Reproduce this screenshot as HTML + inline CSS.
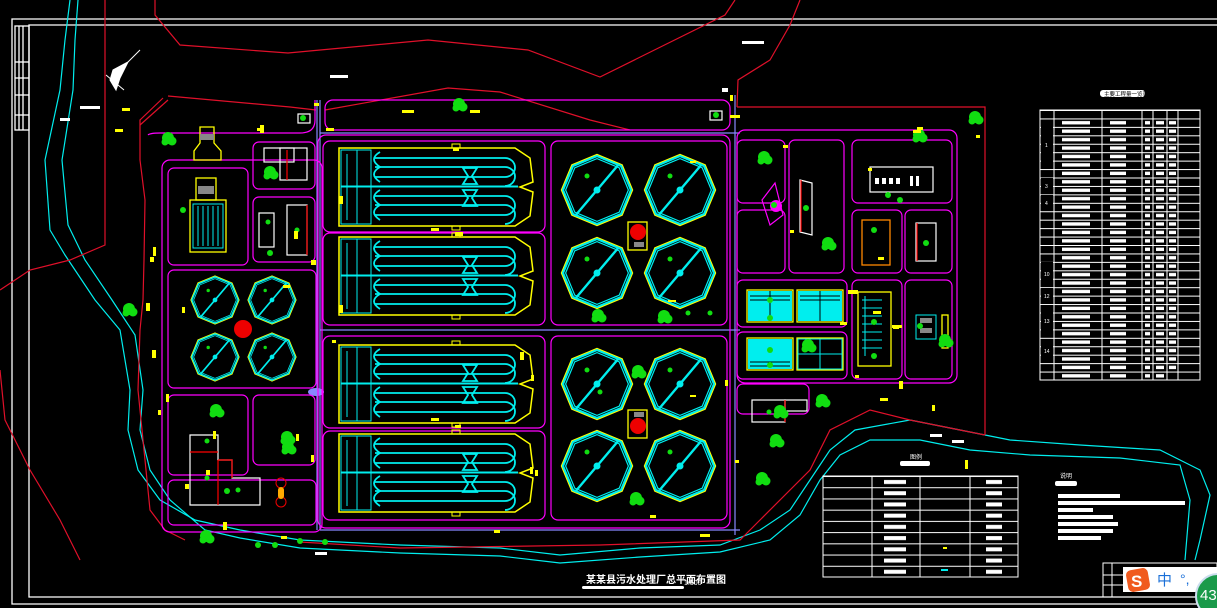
<!DOCTYPE html>
<html><head><meta charset="utf-8"><style>
html,body{margin:0;padding:0;background:#000;overflow:hidden}
svg{display:block}
text{font-family:"Liberation Sans","Noto Sans CJK SC",sans-serif}
</style></head><body>
<svg width="1217" height="608" viewBox="0 0 1217 608" xmlns="http://www.w3.org/2000/svg" xmlns:xlink="http://www.w3.org/1999/xlink">
<defs>
<g id="tank" fill="none">
<path d="M339,0 L515,0 L530,10 L533,34 L520,39 L533,44 L530,68 L515,78 L339,78Z" stroke="#ff0" stroke-width="1.5"/>
<rect x="341" y="2" width="30" height="74" stroke="#0ee"/>
<line x1="347" y1="6" x2="347" y2="72" stroke="#0ee"/>
<line x1="357" y1="2" x2="357" y2="76" stroke="#0ee"/>
<g stroke="#0ee" stroke-width="1.8">
<path d="M375,10H505M375,19H505M375,29H505M375,48H505M375,57H505M375,67H505"/>
<path d="M341,38.5H518" stroke-width="2"/>
<path d="M505,10a10,9.5 0 0 1 0,19M505,19a10,9.5 0 0 1 0,19M505,48a10,9.5 0 0 1 0,19M505,57a10,9.5 0 0 1 0,19"/>
<path d="M380,4q-12,7 0,15q-12,7 0,15M380,42q-12,7 0,15q-12,7 0,15"/>
<path d="M463,20h14l-5,8l5,8h-14l5,-8zM463,42h14l-5,8l5,8h-14l5,-8z"/>
</g>
<rect x="452" y="-4" width="8" height="4" stroke="#ff0"/>
<rect x="452" y="78" width="8" height="4" stroke="#ff0"/>
</g>
<g id="oct">
<g transform="rotate(22.5)">
<polygon points="32.8,13.6 13.6,32.8 -13.6,32.8 -32.8,13.6 -32.8,-13.6 -13.6,-32.8 13.6,-32.8 32.8,-13.6" fill="none" stroke="#ff0" stroke-width="1.4"/>
<polygon points="31.4,13 13,31.4 -13,31.4 -31.4,13 -31.4,-13 -13,-31.4 13,-31.4 31.4,-13" fill="none" stroke="#0ee" stroke-width="2.2"/>
<polygon points="29,12 12,29 -12,29 -29,12 -29,-12 -12,-29 12,-29 29,-12" fill="none" stroke="#0ee" stroke-width="1.2"/>
</g>
<line x1="-22" y1="26" x2="22" y2="-26" stroke="#0ee" stroke-width="2.4"/>
<circle r="3.5" fill="#0ee"/>
<circle cx="-10" cy="-14" r="2.5" fill="#1d1"/>
</g>
<pattern id="rowl" patternUnits="userSpaceOnUse" x="0" y="110" width="200" height="8.4375"><rect width="200" height="1" fill="#fff"/></pattern>
<pattern id="rowb" patternUnits="userSpaceOnUse" x="0" y="110" width="200" height="8.4375"><rect y="2.6" width="200" height="3.4" fill="#fff"/></pattern>
<pattern id="legl" patternUnits="userSpaceOnUse" x="0" y="476" width="200" height="11.222"><rect width="200" height="1" fill="#fff"/></pattern>
<pattern id="legb" patternUnits="userSpaceOnUse" x="0" y="476" width="200" height="11.222"><rect y="4" width="200" height="4" fill="#fff"/></pattern>
<g id="tree"><circle r="6" fill="#1d1"/><circle cx="4" cy="3" r="4.5" fill="#1d1"/><circle cx="-3" cy="4" r="3.5" fill="#1d1"/></g>
</defs>
<rect width="1217" height="608" fill="#000"/>
<g fill="none" stroke="#fff" stroke-width="1.3">
<polyline points="1217,19 12,19 12,604 1217,604"/>
<polyline points="1217,25 29,25 29,597 1217,597"/>
<rect x="15" y="26" width="14" height="104"/>
<line x1="19" y1="26" x2="19" y2="130"/><line x1="23" y1="26" x2="23" y2="130"/>
<line x1="15" y1="62" x2="29" y2="62"/><line x1="15" y1="78" x2="29" y2="78"/><line x1="15" y1="95" x2="29" y2="95"/><line x1="15" y1="115" x2="29" y2="115"/>
</g>
<g fill="none" stroke="#0ee" stroke-width="1.2">
<polyline points="70,0 65,40 60,90 45,160 50,230 65,255 95,300 120,330 130,390 128,430 138,470 160,500 195,520 240,530 300,540 400,545 500,548 560,555 640,548 720,545 760,530 790,510 810,480 830,450 855,430 910,420 960,430 1010,440 1080,445 1160,450 1200,470 1210,495 1200,540 1195,560"/>
<polyline points="78,0 75,40 73,90 62,160 68,225 85,260 112,300 135,335 143,390 140,430 150,470 170,500 205,530 240,538 300,548 400,553 500,556 560,563 640,557 720,552 770,540 800,515 820,480 840,455 870,440 920,440 970,450 1030,455 1120,458 1180,465 1190,500 1185,560"/>
</g>
<g fill="none" stroke="#e0102a" stroke-width="1.2">
<polyline points="0,290 30,270 70,260 105,245 105,0"/>
<polyline points="0,370 5,420 30,470 60,520 80,560"/>
<polyline points="155,0 155,15 180,45 288,53 428,40 528,50 600,77 725,15 735,0"/>
<polyline points="800,0 790,25 770,60 738,80 737,107"/>
<polyline points="168,96 290,107 316,110"/><polyline points="140,125 168,100"/>
<polyline points="325,110 448,88 500,92 590,120 630,130"/>
<polyline points="163,98 140,120 140,160 145,200 144,260 143,300 140,330 138,390 146,470 150,510 165,530 185,540"/>
<polyline points="737,107 985,107 985,435"/>
<polyline points="985,435 910,420 870,410 830,430 810,470 760,520 740,540 600,545 400,548 300,542"/>
</g>
<g fill="none" stroke="#88f" stroke-width="1.2">
<line x1="317" y1="100" x2="317" y2="530"/><line x1="320" y1="100" x2="320" y2="530"/>
<polyline points="320,133 740,133"/><polyline points="320,330 740,330"/>
<polyline points="320,530 740,530"/>
<line x1="735" y1="95" x2="735" y2="535"/>
</g>
<ellipse cx="316" cy="392" rx="8" ry="4" fill="#88f"/>
<g fill="none" stroke="#f0f" stroke-width="1.2">
<rect x="162" y="160" width="160" height="372" rx="8"/>
<rect x="168" y="168" width="80" height="97" rx="6"/>
<rect x="253" y="142" width="62" height="47" rx="6"/>
<rect x="253" y="197" width="62" height="65" rx="6"/>
<rect x="168" y="270" width="148" height="118" rx="6"/>
<rect x="168" y="395" width="80" height="80" rx="6"/>
<rect x="253" y="395" width="62" height="70" rx="6"/>
<rect x="168" y="480" width="148" height="45" rx="6"/>
<path d="M148,135 Q150,133 160,133 L300,133 Q315,133 315,120 L315,100"/>
<rect x="325" y="100" width="405" height="30" rx="8"/>
<rect x="323" y="141" width="222" height="91" rx="7"/>
<rect x="323" y="233" width="222" height="92" rx="7"/>
<rect x="323" y="336" width="222" height="92" rx="7"/>
<rect x="323" y="431" width="222" height="89" rx="7"/>
<rect x="551" y="141" width="176" height="184" rx="7"/>
<rect x="551" y="336" width="176" height="184" rx="7"/>
<rect x="318" y="135" width="412" height="393" rx="8"/>
<rect x="737" y="130" width="220" height="253" rx="8"/>
<rect x="737" y="140" width="48" height="63" rx="6"/>
<rect x="737" y="210" width="48" height="63" rx="6"/>
<rect x="789" y="140" width="55" height="133" rx="6"/>
<rect x="852" y="140" width="100" height="63" rx="6"/>
<rect x="852" y="210" width="50" height="63" rx="6"/>
<rect x="905" y="210" width="47" height="63" rx="6"/>
<rect x="737" y="280" width="110" height="47" rx="6"/>
<rect x="737" y="332" width="110" height="47" rx="6"/>
<rect x="852" y="280" width="50" height="99" rx="6"/>
<rect x="905" y="280" width="47" height="99" rx="6"/>
<polygon points="775,183 762,200 770,225 783,215"/>
<rect x="737" y="384" width="72" height="30" rx="6"/>
</g>
<use xlink:href="#tank" href="#tank" transform="translate(0,148)"/>
<use xlink:href="#tank" href="#tank" transform="translate(0,237)"/>
<use xlink:href="#tank" href="#tank" transform="translate(0,345)"/>
<use xlink:href="#tank" href="#tank" transform="translate(0,434)"/>
<use xlink:href="#oct" href="#oct" transform="translate(597,190)"/>
<use xlink:href="#oct" href="#oct" transform="translate(680,190)"/>
<use xlink:href="#oct" href="#oct" transform="translate(597,273)"/>
<use xlink:href="#oct" href="#oct" transform="translate(680,273)"/>
<use xlink:href="#oct" href="#oct" transform="translate(597,384)"/>
<use xlink:href="#oct" href="#oct" transform="translate(680,384)"/>
<use xlink:href="#oct" href="#oct" transform="translate(597,466)"/>
<use xlink:href="#oct" href="#oct" transform="translate(680,466)"/>
<use xlink:href="#oct" href="#oct" transform="translate(215,300) scale(0.68)"/>
<use xlink:href="#oct" href="#oct" transform="translate(272,300) scale(0.68)"/>
<use xlink:href="#oct" href="#oct" transform="translate(215,357) scale(0.68)"/>
<use xlink:href="#oct" href="#oct" transform="translate(272,357) scale(0.68)"/>
<g fill="none" stroke="#ff0" stroke-width="1.3">
<rect x="190" y="200" width="36" height="52"/>
<rect x="196" y="178" width="20" height="22"/>
<polygon points="200,127 214,127 214,143 221,151 221,160 194,160 194,151 200,143"/>
<rect x="628" y="222" width="19" height="28"/>
<rect x="628" y="410" width="19" height="28"/>
<rect x="747" y="290" width="46" height="32"/><rect x="797" y="290" width="46" height="32"/>
<rect x="747" y="338" width="46" height="32"/><rect x="797" y="338" width="46" height="32"/>
<rect x="858" y="292" width="33" height="74"/>
<rect x="862" y="220" width="28" height="45" stroke="#f80"/>
<rect x="942" y="315" width="6" height="33"/>
</g>
<g fill="#0ee">
<rect x="748" y="291" width="44" height="30"/><rect x="798" y="291" width="44" height="30"/>
<rect x="748" y="339" width="44" height="30"/>
</g>
<g fill="none" stroke="#0ee" stroke-width="1">
<rect x="193" y="204" width="30" height="44"/>
<path d="M198,206v40M203,206v40M208,206v40M213,206v40M218,206v40"/>
<rect x="916" y="315" width="20" height="24"/>
<rect x="798" y="339" width="44" height="30"/><line x1="820" y1="339" x2="820" y2="369"/><line x1="798" y1="354" x2="842" y2="354"/>
<path d="M862,300h20M862,308h20M862,316h20M862,324h20M862,332h20M862,340h20M862,348h20M865,296v60"/>
</g>
<g stroke="#000" stroke-width="1"><path d="M750,296h40M750,300h40M800,296h40M800,300h40M750,362h40M750,366h40M770,291v30M820,291v30"/></g>
<g fill="none" stroke="#fff" stroke-width="1.2">
<polygon points="190,435 218,435 218,460 232,460 232,478 260,478 260,505 190,505"/>
<rect x="264" y="148" width="30" height="14"/><rect x="280" y="148" width="27" height="32"/>
<rect x="259" y="213" width="15" height="34"/><rect x="287" y="205" width="20" height="50"/>
<rect x="870" y="167" width="63" height="25"/>
<polygon points="800,180 812,183 812,235 800,232"/>
<rect x="916" y="223" width="20" height="38"/>
<rect x="752" y="400" width="33" height="22"/><rect x="785" y="400" width="22" height="11"/>
<rect x="298" y="114" width="12" height="9"/><rect x="710" y="111" width="12" height="9"/>
</g>
<g fill="#fff"><rect x="875" y="178" width="4" height="6"/><rect x="882" y="178" width="4" height="6"/><rect x="889" y="178" width="4" height="6"/><rect x="896" y="178" width="4" height="6"/><rect x="910" y="176" width="3" height="10"/><rect x="916" y="176" width="3" height="10"/></g>
<g stroke="#f00" stroke-width="1.2" fill="none">
<line x1="218" y1="460" x2="218" y2="505"/><line x1="190" y1="452" x2="218" y2="452"/>
<polyline points="218,460 232,460 232,478"/><line x1="287" y1="150" x2="287" y2="180"/>
<line x1="307" y1="205" x2="307" y2="255"/><line x1="801" y1="180" x2="801" y2="232"/>
<line x1="917" y1="223" x2="917" y2="261"/><line x1="785" y1="400" x2="785" y2="422"/>
</g>
<g fill="#e00">
<circle cx="243" cy="329" r="9"/><circle cx="638" cy="232" r="8"/><circle cx="638" cy="426" r="8"/>
</g>
<g fill="none" stroke="#e00"><circle cx="281" cy="483" r="5"/><circle cx="281" cy="502" r="5"/></g>
<rect x="278" y="487" width="6" height="12" rx="3" fill="#fa0"/>
<circle cx="776" cy="206" r="6" fill="#f0f"/>
<g fill="#888"><rect x="200" y="134" width="14" height="6"/><rect x="198" y="186" width="16" height="8"/><rect x="634" y="242" width="10" height="5"/><rect x="634" y="412" width="10" height="5"/><rect x="920" y="318" width="12" height="5"/><rect x="920" y="328" width="12" height="5"/></g>
<g>
<use href="#tree" xlink:href="#tree" x="168" y="138"/><use href="#tree" xlink:href="#tree" x="216" y="410"/>
<use href="#tree" xlink:href="#tree" x="287" y="437"/><use href="#tree" xlink:href="#tree" x="288" y="447"/>
<use href="#tree" xlink:href="#tree" x="459" y="104"/><use href="#tree" xlink:href="#tree" x="764" y="157"/>
<use href="#tree" xlink:href="#tree" x="828" y="243"/><use href="#tree" xlink:href="#tree" x="919" y="135"/>
<use href="#tree" xlink:href="#tree" x="129" y="309"/><use href="#tree" xlink:href="#tree" x="776" y="440"/>
<use href="#tree" xlink:href="#tree" x="822" y="400"/><use href="#tree" xlink:href="#tree" x="808" y="345"/>
<use href="#tree" xlink:href="#tree" x="780" y="411"/><use href="#tree" xlink:href="#tree" x="945" y="340"/>
<use href="#tree" xlink:href="#tree" x="638" y="371"/><use href="#tree" xlink:href="#tree" x="762" y="478"/>
<use href="#tree" xlink:href="#tree" x="975" y="117"/><use href="#tree" xlink:href="#tree" x="206" y="536"/>
<use href="#tree" xlink:href="#tree" x="270" y="172"/><use href="#tree" xlink:href="#tree" x="598" y="315"/>
<use href="#tree" xlink:href="#tree" x="664" y="316"/><use href="#tree" xlink:href="#tree" x="636" y="498"/>
</g>
<g fill="#1d1">
<circle cx="258" cy="545" r="3"/><circle cx="275" cy="545" r="3"/><circle cx="300" cy="541" r="3"/><circle cx="325" cy="542" r="3"/>
<circle cx="183" cy="210" r="3"/><circle cx="270" cy="253" r="3"/><circle cx="227" cy="491" r="3"/><circle cx="303" cy="118" r="3"/><circle cx="716" cy="115" r="3"/>
<circle cx="207" cy="441" r="2.5"/><circle cx="207" cy="478" r="2.5"/><circle cx="238" cy="490" r="2.5"/><circle cx="268" cy="222" r="2.5"/><circle cx="297" cy="230" r="2.5"/>
<circle cx="688" cy="313" r="2.5"/><circle cx="710" cy="313" r="2.5"/><circle cx="888" cy="195" r="3"/><circle cx="900" cy="200" r="3"/><circle cx="774" cy="205" r="3"/><circle cx="806" cy="208" r="3"/><circle cx="874" cy="230" r="3"/><circle cx="926" cy="243" r="3"/><circle cx="770" cy="300" r="3"/><circle cx="770" cy="318" r="3"/><circle cx="770" cy="350" r="3"/><circle cx="770" cy="365" r="3"/><circle cx="874" cy="322" r="3"/><circle cx="874" cy="356" r="3"/><circle cx="769" cy="412" r="2.5"/><circle cx="920" cy="326" r="3"/><circle cx="942" cy="344" r="3"/>
<circle cx="600" cy="392" r="2.5"/>
</g>
<g fill="#ff0">
<rect x="122" y="108" width="8" height="3"/><rect x="115" y="129" width="8" height="3"/><rect x="257" y="128" width="7" height="3"/><rect x="260" y="125" width="4" height="8"/>
<rect x="153" y="247" width="3" height="9"/><rect x="146" y="303" width="4" height="8"/><rect x="152" y="350" width="4" height="8"/><rect x="182" y="307" width="3" height="6"/>
<rect x="166" y="394" width="3" height="8"/><rect x="150" y="257" width="4" height="5"/><rect x="294" y="231" width="4" height="8"/><rect x="283" y="285" width="7" height="3"/>
<rect x="311" y="260" width="5" height="5"/><rect x="332" y="340" width="4" height="3"/><rect x="326" y="128" width="8" height="3"/><rect x="453" y="148" width="6" height="3"/>
<rect x="402" y="110" width="12" height="3"/><rect x="470" y="110" width="10" height="3"/><rect x="431" y="228" width="8" height="3"/><rect x="455" y="232" width="8" height="4"/>
<rect x="431" y="418" width="8" height="3"/><rect x="455" y="425" width="6" height="3"/><rect x="494" y="530" width="6" height="3"/><rect x="700" y="534" width="10" height="3"/>
<rect x="668" y="300" width="8" height="2"/><rect x="690" y="161" width="6" height="2"/><rect x="690" y="395" width="6" height="2"/><rect x="917" y="127" width="6" height="3"/>
<rect x="913" y="130" width="8" height="3"/><rect x="873" y="311" width="8" height="3"/><rect x="893" y="326" width="6" height="3"/><rect x="899" y="381" width="4" height="8"/>
<rect x="880" y="398" width="8" height="3"/><rect x="932" y="405" width="3" height="6"/><rect x="976" y="135" width="4" height="3"/><rect x="730" y="115" width="10" height="3"/>
<rect x="730" y="95" width="3" height="6"/><rect x="314" y="103" width="5" height="3"/><rect x="223" y="522" width="4" height="8"/><rect x="206" y="470" width="4" height="5"/>
<rect x="185" y="484" width="4" height="5"/><rect x="213" y="431" width="3" height="8"/><rect x="296" y="434" width="3" height="7"/><rect x="311" y="455" width="3" height="7"/>
<rect x="281" y="536" width="6" height="3"/><rect x="158" y="410" width="3" height="5"/><rect x="531" y="375" width="3" height="6"/><rect x="535" y="470" width="3" height="6"/>
<rect x="735" y="460" width="4" height="3"/><rect x="650" y="515" width="6" height="3"/><rect x="790" y="230" width="4" height="3"/><rect x="878" y="257" width="6" height="3"/>
<rect x="868" y="168" width="4" height="3"/><rect x="339" y="196" width="4" height="8"/><rect x="339" y="305" width="4" height="8"/><rect x="520" y="352" width="4" height="8"/>
<rect x="530" y="467" width="3" height="7"/><rect x="725" y="380" width="3" height="6"/><rect x="848" y="290" width="10" height="4"/><rect x="840" y="322" width="7" height="3"/>
<rect x="892" y="325" width="10" height="3"/><rect x="855" y="375" width="4" height="3"/><rect x="783" y="145" width="5" height="3"/><rect x="965" y="460" width="3" height="9"/>
</g>
<g stroke="#fff" fill="#fff" stroke-width="1">
<polygon points="113,70 128,62 120,78 116,90 110,80"/>
<line x1="128" y1="62" x2="140" y2="50"/><line x1="106" y1="75" x2="124" y2="90"/>
</g>
<g fill="#fff">
<rect x="80" y="106" width="20" height="3"/><rect x="60" y="118" width="10" height="3"/>
<rect x="330" y="75" width="18" height="3"/><rect x="742" y="41" width="22" height="3"/>
<rect x="722" y="88" width="6" height="4"/><rect x="930" y="434" width="12" height="3"/>
<rect x="952" y="440" width="12" height="3"/><rect x="315" y="552" width="12" height="3"/>
</g>
<rect x="1040" y="110" width="160" height="270" fill="url(#rowl)"/>
<g fill="url(#rowb)">
<rect x="1062" y="118.4" width="28" height="261"/><rect x="1110" y="118.4" width="16" height="261"/>
<rect x="1145" y="118.4" width="5" height="261"/><rect x="1156" y="118.4" width="8" height="261"/><rect x="1169" y="118.4" width="7" height="253"/>
</g>
<g fill="none" stroke="#fff" stroke-width="1">
<rect x="1040" y="110" width="160" height="270"/>
<path d="M1054,110V380M1102,110V380M1142,110V380M1153,110V380M1167,110V380M1178,110V380"/>
</g>
<g fill="#000"><rect x="1041" y="120" width="12" height="49"/><rect x="1041" y="178" width="12" height="15"/><rect x="1041" y="195" width="12" height="15"/><rect x="1041" y="262" width="12" height="24"/><rect x="1041" y="288" width="12" height="15"/><rect x="1041" y="305" width="12" height="32"/><rect x="1041" y="339" width="12" height="24"/></g>
<g fill="#fff" font-size="5"><text x="1045" y="147">1</text><text x="1045" y="188">3</text><text x="1045" y="205">4</text><text x="1044" y="276">10</text><text x="1044" y="298">12</text><text x="1044" y="323">13</text><text x="1044" y="353">14</text></g>
<rect x="1100" y="90" width="45" height="7" rx="3" fill="#fff"/>
<text x="1104" y="96" font-size="5.5" fill="#000">主要工程量一览表</text>
<rect x="823" y="476" width="195" height="101" fill="url(#legl)"/>
<g fill="url(#legb)"><rect x="884" y="476" width="22" height="101"/><rect x="986" y="476" width="16" height="101"/></g>
<g fill="none" stroke="#fff" stroke-width="1"><rect x="823" y="476" width="195" height="101"/><path d="M872,476V577M920,476V577M970,476V577"/></g>
<rect x="943" y="547" width="4" height="2" fill="#ff0"/>
<rect x="941" y="569" width="7" height="2" fill="#0ee"/>
<rect x="900" y="461" width="30" height="5" rx="2" fill="#fff"/>
<text x="910" y="459" font-size="6" fill="#fff">图例</text>
<g fill="#fff">
<rect x="1055" y="481" width="22" height="5" rx="2"/>
<rect x="1058" y="494" width="62" height="4"/><rect x="1058" y="501" width="127" height="4"/>
<rect x="1058" y="508" width="35" height="4"/><rect x="1058" y="515" width="55" height="4"/>
<rect x="1058" y="522" width="60" height="4"/><rect x="1058" y="529" width="55" height="4"/>
<rect x="1058" y="536" width="43" height="4"/>
</g>
<text x="1060" y="478" font-size="6" fill="#fff">说明</text>
<text x="586" y="583" font-size="10" font-weight="bold" fill="#fff">某某县污水处理厂总平面布置图</text>
<rect x="582" y="586" width="102" height="3" rx="1.5" fill="#fff"/>
<text x="684" y="585" font-size="7" fill="#fff">1:500</text>
<g fill="none" stroke="#fff" stroke-width="1"><rect x="1103" y="563" width="114" height="34"/><line x1="1103" y1="575" x2="1217" y2="575"/><line x1="1103" y1="585" x2="1217" y2="585"/><line x1="1112" y1="563" x2="1112" y2="597"/></g>
<rect x="1123" y="567" width="94" height="25" fill="#fff"/>
<rect x="1127" y="569" width="22" height="22" rx="5" fill="#f05a1e" transform="rotate(-10 1138 580)"/>
<text x="1131" y="587" font-size="17" font-weight="bold" fill="#fff">S</text>
<text x="1157" y="585" font-size="15" fill="#1a6fd8" font-family="Noto Sans CJK SC,sans-serif">中</text>
<text x="1180" y="584" font-size="14" fill="#1a6fd8">°,</text>
<circle cx="1218" cy="596" r="22" fill="#1a9a4a" stroke="#cde" stroke-width="2"/>
<text x="1200" y="600" font-size="15" fill="#fff">43</text>
</svg>
</body></html>
